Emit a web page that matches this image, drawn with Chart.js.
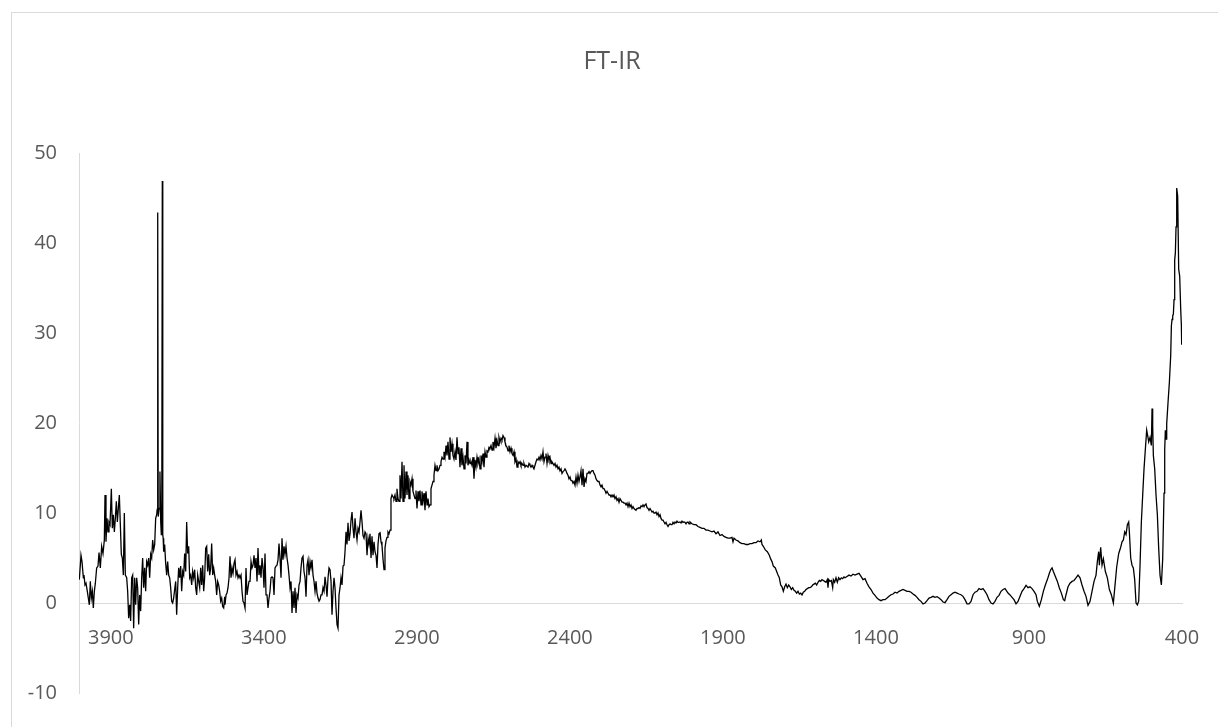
<!DOCTYPE html>
<html>
<head>
<meta charset="utf-8">
<title>FT-IR</title>
<script src="https://cdn.jsdelivr.net/npm/chart.js@4/dist/chart.umd.min.js"></script>
<style>
  html, body { margin: 0; padding: 0; background: #ffffff; overflow: hidden; width: 1218px; height: 727px; }
  #frame { position: absolute; left: 11px; top: 12px; width: 1400px; height: 900px; border: 1px solid #d9d9d9; box-sizing: border-box; }
  #chart { position: absolute; left: 0; top: 0; }
</style>
</head>
<body>
<div id="frame"></div>
<canvas id="chart" width="1260" height="727"></canvas>
<script>
// Spectrum as [wavenumber (cm-1), intensity] pairs, split into regions.
const region4000to3530 = [
  [4002.9,2.6],[3997.5,5.3],[3994.2,4.6],[3989.8,2.8],[3987.7,3.1],[3984.4,2.0],[3981.1,2.2],[3976.8,1.3],
  [3973.5,0.55],[3970.2,-0.2],[3967.0,2.4],[3963.7,0.55],[3960.4,1.3],[3957.2,-0.55],[3953.9,1.3],[3950.6,2.2],
  [3946.3,3.9],[3941.9,4.1],[3938.6,5.6],[3934.3,3.9],[3929.9,6.3],[3925.6,5.5],[3921.2,7.0],[3919.0,12.0],
  [3915.8,6.8],[3912.5,9.4],[3909.2,7.9],[3906.0,9.0],[3902.7,8.7],[3898.3,12.7],[3895.1,8.3],[3891.8,9.8],
  [3888.5,7.9],[3885.3,9.4],[3882.0,11.3],[3878.7,9.0],[3875.5,10.5],[3872.2,12.0],[3868.9,8.7],[3865.7,5.4],
  [3862.4,5.0],[3859.1,3.1],[3855.9,10.0],[3852.6,3.1],[3848.2,2.8],[3845.0,1.3],[3841.7,-1.7],[3838.4,-0.2],
  [3835.2,-2.0],[3831.9,2.8],[3828.6,3.1],[3825.4,-2.8],[3822.1,2.8],[3818.8,-0.2],[3815.6,2.8],[3812.3,1.7],
  [3809.0,-2.4],[3805.8,0.9],[3802.5,-0.9],[3799.2,2.8],[3796.0,5.0],[3792.7,1.7],[3789.4,3.9],[3786.2,1.3],
  [3782.9,4.6],[3779.6,4.2],[3776.3,5.0],[3773.1,2.8],[3769.8,5.4],[3766.5,5.0],[3763.3,7.0],[3760.0,5.9],
  [3756.7,6.5],[3753.5,9.4],[3750.2,9.8],[3748.5,10.4],[3746.8,43.4],[3745.2,9.6],[3742.0,10.5],[3739.5,14.6],
  [3737.0,9.0],[3735.0,7.6],[3733.5,8.8],[3731.8,46.9],[3730.3,7.6],[3729.0,7.2],[3727.3,5.7],[3724.1,6.5],
  [3720.8,4.4],[3717.5,3.1],[3714.3,4.6],[3711.0,3.1],[3707.7,2.8],[3704.5,1.7],[3701.2,0.2],[3697.9,0.0],
  [3694.7,0.55],[3691.4,1.5],[3688.1,2.4],[3684.9,-1.3],[3681.6,1.7],[3678.3,3.9],[3675.1,2.8],[3671.8,4.1],
  [3668.5,1.3],[3665.2,3.5],[3662.0,3.1],[3658.7,5.5],[3655.4,3.5],[3652.2,9.0],[3648.9,5.5],[3645.6,6.3],
  [3642.4,2.8],[3639.1,3.1],[3635.8,2.0],[3632.6,3.5],[3629.3,2.8],[3626.0,3.7],[3622.8,1.7],[3619.5,0.9],
  [3616.2,3.1],[3613.0,2.4],[3609.7,1.7],[3606.4,3.9],[3603.2,2.0],[3599.9,4.2],[3596.6,1.3],[3593.4,2.8],
  [3590.1,6.1],[3586.8,6.3],[3583.6,3.5],[3580.3,5.4],[3577.0,3.1],[3573.8,3.9],[3570.5,6.6],[3567.2,3.1],
  [3564.0,3.9],[3560.7,3.1],[3557.4,2.4],[3554.2,0.9],[3550.9,2.4],[3547.6,2.0],[3544.4,1.3],[3541.1,0.2],
  [3537.8,0.55],[3534.6,-0.4],[3531.3,-0.55],[3528.0,0.7]
];

const region3530to3020 = [
  [3526.9,-0.2],[3523.6,0.9],[3520.4,1.1],[3517.1,1.7],[3513.8,2.8],[3510.6,5.2],[3507.3,2.8],[3504.0,3.9],
  [3500.8,3.3],[3497.5,4.4],[3494.2,4.8],[3491.0,3.1],[3487.7,3.5],[3484.4,2.8],[3481.2,3.1],[3477.9,2.8],
  [3474.6,3.1],[3471.3,1.3],[3468.1,0.2],[3464.8,0.0],[3461.5,-0.55],[3458.3,3.9],[3455.0,0.9],[3451.7,1.7],
  [3448.5,2.4],[3445.2,2.4],[3441.9,4.6],[3438.7,3.9],[3435.4,4.2],[3432.1,5.3],[3428.9,3.9],[3425.6,5.0],
  [3422.3,2.4],[3419.1,6.1],[3415.8,3.1],[3412.5,4.2],[3409.3,2.8],[3406.0,5.0],[3402.7,3.9],[3399.5,1.7],
  [3396.2,5.5],[3392.9,0.9],[3389.7,0.9],[3386.4,-0.55],[3383.1,0.55],[3379.9,1.3],[3376.6,2.8],[3373.3,2.9],
  [3370.1,2.8],[3366.8,0.9],[3363.5,3.9],[3360.3,4.1],[3357.0,4.2],[3353.7,4.8],[3350.5,6.6],[3347.2,5.0],
  [3343.9,2.8],[3340.7,7.2],[3337.4,4.8],[3334.1,6.3],[3330.9,5.4],[3327.6,6.3],[3324.3,5.0],[3321.0,4.2],
  [3317.8,3.1],[3314.5,1.7],[3311.2,2.4],[3308.0,-1.1],[3304.7,1.3],[3301.4,-0.55],[3298.2,1.7],[3294.9,-1.1],
  [3291.6,0.9],[3288.4,0.55],[3285.1,2.0],[3281.8,2.4],[3278.6,3.9],[3275.3,5.0],[3272.0,5.2],[3268.8,3.5],
  [3265.5,2.8],[3262.2,0.7],[3258.9,4.2],[3255.7,4.8],[3252.4,3.1],[3249.1,4.6],[3245.9,3.9],[3242.6,4.8],
  [3239.3,3.1],[3236.1,2.4],[3232.8,1.3],[3229.5,2.4],[3226.3,1.1],[3223.0,0.55],[3219.7,0.2],[3216.5,0.4],
  [3213.2,0.9],[3209.9,0.9],[3206.7,1.7],[3203.4,1.3],[3200.1,2.9],[3196.9,2.0],[3193.6,0.7],[3190.3,2.8],
  [3187.1,3.9],[3183.8,3.7],[3180.5,2.4],[3177.3,-1.3],[3174.0,1.3],[3170.7,2.8],[3167.5,1.7],[3164.2,-0.55],
  [3160.9,-2.4],[3157.7,-2.8],[3154.4,0.9],[3151.1,1.7],[3147.9,2.8],[3144.6,2.0],[3141.3,4.1],[3138.1,4.2],
  [3134.8,5.7],[3131.5,7.9],[3128.3,6.5],[3125.0,8.9],[3121.7,6.9],[3118.4,7.7],[3115.2,9.2],[3111.9,10.1],
  [3108.6,8.3],[3105.4,7.2],[3102.1,9.4],[3098.8,7.9],[3095.6,7.0],[3092.3,8.3],[3089.0,7.9],[3085.8,9.0],
  [3082.5,10.3],[3079.2,9.0],[3076.0,7.5],[3072.7,7.2],[3069.4,7.9],[3066.2,7.7],[3062.9,5.3],[3059.6,7.2],
  [3056.4,6.5],[3053.1,7.7],[3049.8,5.0],[3046.6,7.4],[3043.3,5.3],[3040.0,6.8],[3036.8,5.7],[3033.5,5.3],
  [3030.2,3.9],[3027.0,6.5],[3023.7,7.7]
];

const region3020to2515 = [
  [3020.5,7.9],[3017.2,6.8],[3014.0,6.4],[3010.7,4.9],[3007.4,3.7],[3004.2,6.1],[3000.9,6.9],[2997.6,7.3],
  [2994.4,7.9],[2991.1,7.7],[2987.8,8.1],[2984.6,11.6],[2981.3,12.0],[2978.0,11.8],[2974.8,11.6],[2971.5,12.0],
  [2968.2,11.3],[2965.0,12.7],[2961.7,11.6],[2958.4,11.3],[2955.2,14.2],[2951.9,11.6],[2948.6,15.7],[2945.3,11.3],
  [2942.1,15.3],[2938.8,11.6],[2935.5,14.6],[2932.3,12.0],[2929.0,14.2],[2925.7,11.6],[2922.5,13.5],[2919.2,13.1],
  [2915.9,13.8],[2912.7,12.4],[2909.4,12.0],[2906.1,11.6],[2902.9,12.5],[2899.6,10.5],[2896.3,12.4],[2893.1,11.3],
  [2889.8,12.5],[2886.5,10.9],[2883.3,12.4],[2880.0,11.3],[2876.7,12.2],[2873.5,10.3],[2870.2,12.4],[2866.9,10.9],
  [2863.7,11.6],[2860.4,10.7],[2857.1,10.9],[2853.9,12.7],[2850.6,13.1],[2847.3,13.5],[2844.1,14.2],[2840.8,15.3],
  [2837.5,14.7],[2834.3,15.3],[2831.0,14.7],[2827.7,14.9],[2824.4,15.3],[2821.2,15.7],[2817.9,16.2],[2814.6,16.0],
  [2811.4,16.8],[2808.1,16.2],[2804.8,17.5],[2801.6,16.4],[2798.3,17.9],[2795.0,16.0],[2791.8,18.4],[2788.5,16.8],
  [2785.2,17.7],[2782.0,16.4],[2778.7,16.0],[2775.4,16.8],[2772.2,15.9],[2768.9,18.4],[2765.6,16.6],[2762.4,17.3],
  [2759.1,15.1],[2755.8,17.2],[2752.6,15.3],[2749.3,16.2],[2746.0,14.9],[2742.8,16.4],[2739.5,15.5],[2736.2,17.9],
  [2733.0,15.3],[2729.7,15.9],[2726.4,15.5],[2723.2,15.7],[2719.9,15.3],[2716.6,16.2],[2713.4,13.8],[2710.1,15.9],
  [2706.8,15.1],[2703.5,16.2],[2700.3,15.5],[2697.0,16.0],[2693.7,14.9],[2690.5,16.4],[2687.2,15.7],[2683.9,16.6],
  [2680.7,15.1],[2677.4,16.8],[2674.1,16.2],[2670.9,16.9],[2667.6,16.8],[2664.3,17.3],[2661.1,17.2],[2657.8,17.5],
  [2654.5,17.0],[2651.3,17.9],[2648.0,17.3],[2644.7,18.3],[2641.5,17.2],[2638.2,18.1],[2634.9,17.5],[2631.7,18.4],
  [2628.4,17.9],[2625.1,18.3],[2621.9,18.1],[2618.6,18.6],[2615.3,18.4],[2612.1,17.9],[2608.8,17.5],[2605.5,17.3],
  [2602.2,16.9],[2599.0,17.5],[2595.7,16.8],[2592.4,17.2],[2589.2,16.6],[2585.9,16.4],[2582.6,16.8],[2579.4,15.7],
  [2576.1,16.0],[2572.8,15.1],[2569.6,15.7],[2566.3,15.5],[2563.0,15.7],[2559.8,15.3],[2556.5,15.5],[2553.2,15.3],
  [2550.0,15.5],[2546.7,15.1],[2543.4,15.3],[2540.2,15.3],[2536.9,15.1],[2533.6,15.5],[2530.4,15.3],[2527.1,15.1],
  [2523.8,15.3],[2520.6,15.1],[2517.3,14.9]
];

const region2515to2010 = [
  [2514.0,15.3],[2510.7,15.7],[2507.5,16.0],[2504.2,15.9],[2500.9,16.2],[2497.7,15.9],[2494.4,16.4],[2491.1,16.0],
  [2487.9,16.8],[2484.6,15.7],[2481.3,16.2],[2478.1,16.6],[2474.8,15.5],[2471.5,16.4],[2468.3,15.9],[2465.0,16.2],
  [2461.7,15.5],[2458.5,15.7],[2455.2,15.5],[2451.9,15.3],[2448.6,15.5],[2445.4,15.1],[2442.1,15.3],[2438.8,14.9],
  [2435.6,15.1],[2432.3,14.7],[2429.0,14.9],[2425.8,14.4],[2422.5,14.6],[2419.2,14.7],[2416.0,14.9],[2412.7,14.7],
  [2409.4,14.4],[2406.2,14.2],[2402.9,13.8],[2399.6,14.0],[2396.4,13.6],[2393.1,13.6],[2389.8,13.3],[2386.6,13.5],
  [2383.3,13.1],[2380.0,14.0],[2376.8,13.3],[2373.5,14.2],[2370.2,13.5],[2367.0,14.0],[2363.7,14.7],[2360.4,13.1],
  [2357.2,14.9],[2353.9,12.9],[2350.6,13.8],[2347.4,13.5],[2344.1,14.4],[2340.8,14.4],[2337.5,14.6],[2334.3,14.4],
  [2331.0,14.6],[2327.7,14.7],[2324.5,14.7],[2321.2,14.4],[2317.9,14.2],[2314.7,13.8],[2311.4,13.6],[2308.1,13.5],
  [2304.9,13.5],[2301.6,13.1],[2298.3,12.9],[2295.1,13.1],[2291.8,12.7],[2288.5,12.7],[2285.3,12.5],[2282.0,12.2],
  [2278.7,12.4],[2275.5,12.2],[2272.2,12.0],[2268.9,12.0],[2265.7,11.8],[2262.4,12.0],[2259.1,11.8],[2255.9,12.0],
  [2252.6,11.6],[2249.3,11.8],[2246.1,11.4],[2242.8,11.6],[2239.5,11.2],[2236.3,11.6],[2233.0,11.4],[2229.7,11.2],
  [2226.5,11.2],[2223.2,11.1],[2219.9,11.1],[2216.6,10.9],[2213.4,11.1],[2210.1,10.7],[2206.8,11.1],[2203.6,10.7],
  [2200.3,10.9],[2197.0,10.5],[2193.8,10.7],[2190.5,10.5],[2187.2,10.4],[2184.0,10.3],[2180.7,10.5],[2177.4,10.5],
  [2174.2,10.6],[2170.9,10.5],[2167.6,10.8],[2164.4,10.7],[2161.1,10.9],[2157.8,10.7],[2154.6,10.9],[2151.3,11.0],
  [2148.0,10.6],[2144.8,10.5],[2141.5,10.3],[2138.2,10.5],[2135.0,10.3],[2131.7,10.1],[2128.4,10.2],[2125.2,10.0],
  [2121.9,10.0],[2118.6,10.1],[2115.4,9.8],[2112.1,10.0],[2108.8,9.6],[2105.5,9.8],[2102.3,9.4],[2099.0,9.2],
  [2095.7,9.2],[2092.5,9.0],[2089.2,8.8],[2085.9,8.96],[2082.7,8.7],[2079.4,8.5],[2076.1,8.7],[2072.9,8.8],
  [2069.6,8.7],[2066.3,8.7],[2063.1,8.96],[2059.8,8.8],[2056.5,9.0],[2053.3,8.9],[2050.0,9.1],[2046.7,8.96],
  [2043.5,8.96],[2040.2,9.0],[2036.9,8.9],[2033.7,9.1],[2030.4,8.96],[2027.1,9.0],[2023.9,8.96],[2020.6,8.8],
  [2017.3,8.96],[2014.1,9.0],[2010.8,8.8]
];

const region2010to1505 = [
  [2007.6,9.0],[2001.1,8.8],[1994.5,8.7],[1988.0,8.7],[1981.5,8.5],[1974.9,8.4],[1968.4,8.3],[1961.9,8.3],
  [1955.3,8.1],[1948.8,8.1],[1942.2,8.0],[1935.7,7.9],[1929.2,8.0],[1922.6,7.7],[1916.1,7.9],[1909.6,7.5],
  [1903.0,7.6],[1896.5,7.4],[1890.0,7.3],[1883.4,7.2],[1876.9,7.2],[1870.4,7.3],[1867.1,6.8],[1863.8,7.2],
  [1857.3,7.0],[1850.8,6.9],[1844.2,6.7],[1837.7,6.6],[1831.1,6.6],[1824.6,6.5],[1818.1,6.5],[1811.5,6.6],
  [1805.0,6.6],[1798.5,6.7],[1791.9,6.7],[1785.4,6.9],[1778.9,6.8],[1774.5,7.0],[1772.3,6.5],[1768.0,6.3],
  [1761.4,5.9],[1754.9,5.7],[1748.4,5.3],[1744.0,4.9],[1739.7,4.6],[1735.3,4.1],[1728.8,3.9],[1724.4,3.5],
  [1720.0,3.1],[1715.7,2.8],[1711.3,2.0],[1707.0,1.8],[1702.6,1.3],[1698.3,1.8],[1693.9,2.1],[1689.6,1.7],
  [1685.2,2.0],[1680.8,1.8],[1676.5,1.5],[1672.1,1.7],[1667.8,1.4],[1663.4,1.3],[1659.1,1.1],[1654.7,1.3],
  [1650.3,1.0],[1646.0,1.1],[1641.6,0.9],[1637.3,1.2],[1632.9,1.3],[1628.6,1.5],[1624.2,1.6],[1619.8,1.7],
  [1615.5,1.7],[1611.1,1.8],[1606.8,2.0],[1602.4,2.1],[1598.1,2.2],[1593.7,2.0],[1589.3,2.3],[1585.0,2.5],
  [1580.6,2.4],[1576.3,2.6],[1571.9,2.5],[1567.6,2.4],[1563.2,2.3],[1558.8,2.6],[1556.7,1.7],[1554.5,2.6],
  [1550.1,2.4],[1545.8,2.5],[1541.4,1.7],[1539.2,2.6],[1534.9,2.3],[1530.5,2.8],[1526.2,2.3],[1521.8,2.8],
  [1517.5,2.6],[1513.1,2.8],[1508.7,2.7],[1504.4,2.9]
];

const region1500to975 = [
  [1501.1,2.8],[1494.6,2.95],[1488.0,3.1],[1481.5,3.0],[1474.9,3.2],[1468.4,3.1],[1461.9,3.2],[1455.3,3.3],
  [1448.8,2.95],[1442.3,2.6],[1435.7,2.7],[1429.2,2.2],[1422.7,1.8],[1416.1,1.5],[1409.6,1.1],[1403.1,0.85],
  [1396.5,0.55],[1390.0,0.37],[1383.5,0.26],[1376.9,0.37],[1370.4,0.37],[1363.8,0.55],[1357.3,0.74],[1350.8,0.92],
  [1344.2,1.0],[1337.7,1.2],[1331.2,1.1],[1324.6,1.3],[1318.1,1.4],[1311.5,1.5],[1305.0,1.4],[1298.5,1.3],
  [1291.9,1.3],[1285.4,1.2],[1278.9,1.0],[1272.4,0.85],[1265.8,0.63],[1259.3,0.37],[1252.8,0.18],[1246.2,-0.1],
  [1239.7,0.0],[1233.2,0.26],[1226.6,0.55],[1220.1,0.63],[1213.5,0.74],[1207.0,0.63],[1200.5,0.7],[1193.9,0.55],
  [1187.4,0.37],[1180.9,0.11],[1174.3,0.04],[1167.8,0.37],[1161.3,0.74],[1154.7,0.92],[1148.2,1.1],[1141.7,1.2],
  [1135.1,1.1],[1128.6,1.0],[1122.1,0.92],[1115.5,0.74],[1109.0,0.37],[1102.4,-0.1],[1095.9,-0.1],[1089.4,0.18],
  [1082.8,0.92],[1076.3,1.2],[1069.8,1.3],[1063.2,1.6],[1056.7,1.5],[1050.2,1.6],[1043.6,1.3],[1037.1,0.92],
  [1030.6,0.37],[1024.0,0.0],[1017.5,-0.1],[1011.0,0.18],[1004.4,0.63],[997.9,0.85],[991.3,1.3],[984.8,1.5],
  [978.3,1.6]
];

const region975to400 = [
  [968.5,1.1],[961.9,0.9],[955.4,0.63],[948.9,0.37],[942.3,-0.1],[935.8,0.18],[929.2,0.74],[922.7,1.3],
  [916.2,1.6],[909.6,1.96],[903.1,1.7],[896.6,1.8],[890.0,1.6],[883.5,1.3],[877.0,0.92],[872.6,0.18],
  [866.1,-0.37],[859.5,0.37],[853.0,1.3],[846.5,2.0],[839.9,2.6],[833.4,3.3],[829.0,3.7],[824.7,3.9],
  [820.3,3.5],[813.8,2.95],[807.2,2.4],[800.7,1.66],[794.2,1.1],[787.6,0.37],[783.3,0.26],[778.9,0.92],
  [772.4,1.8],[765.9,2.2],[759.3,2.4],[752.8,2.5],[746.3,2.8],[739.7,3.1],[733.2,2.8],[726.7,2.0],
  [720.1,1.3],[713.6,0.74],[707.1,-0.26],[700.5,0.18],[694.0,1.3],[687.4,2.4],[680.9,3.1],[676.6,4.6],
  [672.2,5.7],[670.0,4.2],[665.7,6.2],[661.3,4.2],[656.9,4.9],[650.4,3.5],[643.9,2.8],[637.3,1.5],
  [630.8,0.92],[624.3,0.0],[617.7,2.4],[613.4,4.0],[606.8,5.5],[600.3,6.2],[595.9,6.8],[591.6,7.0],
  [587.2,7.9],[582.9,7.6],[578.5,8.7],[574.2,9.0],[572.0,7.9],[567.6,5.0],[563.3,4.2],[559.0,3.9],
  [554.6,2.6],[550.2,0.0],[545.8,-0.2],[541.5,0.2],[537.1,4.2],[532.8,9.0],[528.4,12.0],[524.1,14.9],
  [519.7,17.1],[515.4,19.2],[512.1,18.6],[508.8,17.9],[504.5,18.4],[500.1,17.5],[497.9,21.6],[495.8,19.7],
  [493.6,16.4],[489.2,14.9],[484.9,12.0],[480.5,9.8],[476.2,6.1],[471.8,3.1],[467.4,2.0],[463.1,4.9],
  [458.7,12.2],[456.5,17.0],[454.4,19.2],[452.2,18.2],[450.0,19.9],[445.6,22.3],[441.3,24.5],[436.9,27.5],
  [434.7,30.8],[432.6,31.5],[430.4,31.9],[428.2,32.1],[426.0,33.7],[423.9,38.1],[421.7,38.9],[419.5,41.8],
  [417.3,46.1],[414.1,45.2],[410.8,37.1],[407.5,36.3],[404.2,32.6],[402.0,30.8],[401.0,28.7],[400.0,30.6]
];

// Axis ticks
const xTickValues = [3900, 3400, 2900, 2400, 1900, 1400, 900, 400];
const yTickMin = -10;
const yTickMax = 50;
const yTickStep = 10;

const TEXT_COLOR = '#595959';
const AXIS_COLOR = '#d9d9d9';
const FONT_FAMILY = '"Open Sans", "Liberation Sans", sans-serif';

const spectrum = [].concat(
  region4000to3530, region3530to3020, region3020to2515,
  region2515to2010, region2010to1505, region1500to975, region975to400
).map(([x, y]) => ({ x, y }));

new Chart(document.getElementById('chart'), {
  type: 'line',
  data: {
    datasets: [{
      label: 'FT-IR',
      data: spectrum,
      borderColor: '#000000',
      borderWidth: 1.3,
      pointRadius: 0,
      pointHoverRadius: 0,
      tension: 0,
      fill: false
    }]
  },
  options: {
    responsive: false,
    animation: false,
    devicePixelRatio: 1,
    events: [],
    layout: { padding: { left: 0, right: 36, top: 0, bottom: 0 } },
    plugins: {
      legend: { display: false },
      tooltip: { enabled: false },
      title: {
        display: true,
        text: 'FT-IR',
        color: TEXT_COLOR,
        font: { family: FONT_FAMILY, size: 25, weight: 'normal' },
        padding: { top: 47, bottom: 76 }
      }
    },
    scales: {
      x: {
        type: 'linear',
        reverse: true,
        min: 400,
        max: 4004,
        position: { y: 0 },
        grid: { display: true, color: 'rgba(0,0,0,0)', drawTicks: false },
        border: { display: true, color: AXIS_COLOR, width: 1 },
        afterBuildTicks: (scale) => { scale.ticks = xTickValues.map(v => ({ value: v })); },
        afterFit: (scale) => { scale.height = 32; },
        ticks: {
          autoSkip: false,
          maxRotation: 0,
          padding: 23,
          color: TEXT_COLOR,
          font: { family: FONT_FAMILY, size: 20 },
          callback: (v) => String(v)
        }
      },
      y: {
        type: 'linear',
        position: 'left',
        min: yTickMin,
        max: yTickMax,
        grid: { display: true, color: 'rgba(0,0,0,0)', drawTicks: false },
        border: { display: true, color: AXIS_COLOR, width: 1 },
        afterFit: (scale) => { scale.width = 79; },
        ticks: {
          stepSize: yTickStep,
          padding: 22,
          color: TEXT_COLOR,
          font: { family: FONT_FAMILY, size: 20 },
          callback: (v) => String(v)
        }
      },
      // empty right-hand gutter so the plot ends at 400 while the title stays centred on the frame
      gutter: {
        type: 'linear',
        axis: 'y',
        position: 'right',
        min: yTickMin,
        max: yTickMax,
        grid: { display: false },
        border: { display: false },
        ticks: { display: false },
        afterFit: (scale) => { scale.width = 42; }
      }
    }
  }
});
</script>
</body>
</html>
